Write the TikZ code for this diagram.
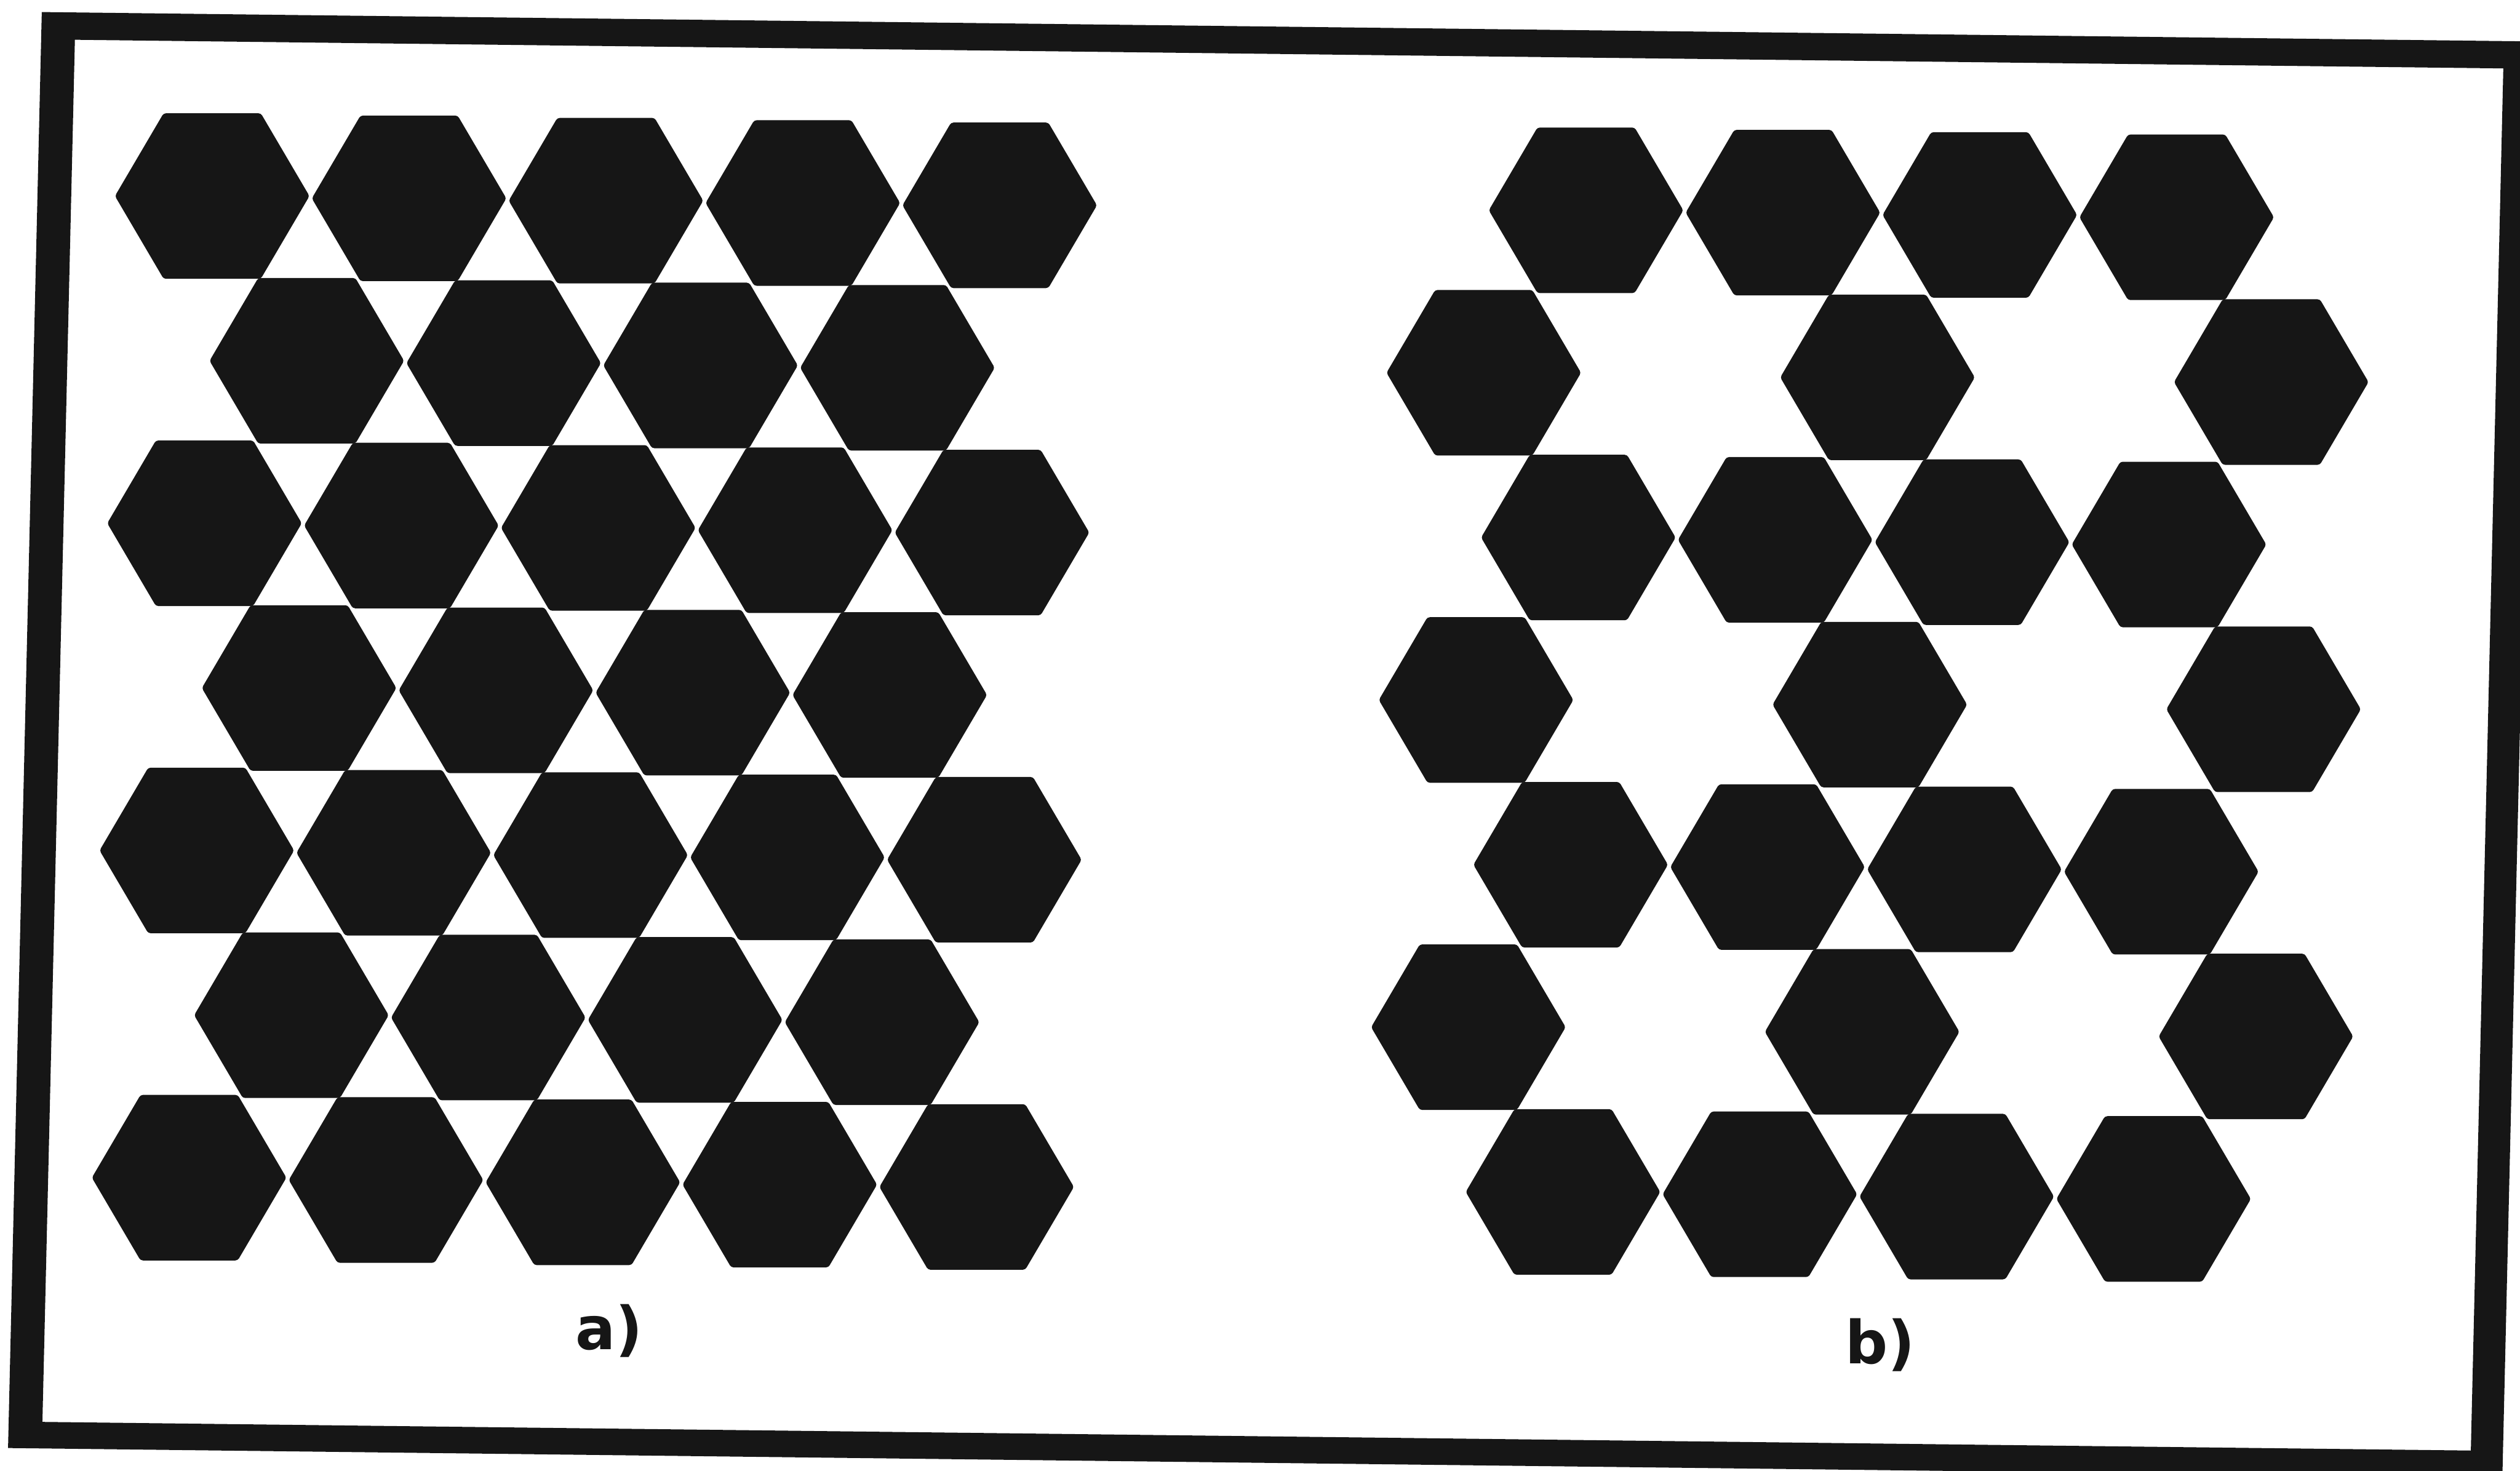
\documentclass[tikz,border=0pt]{standalone}
\usepackage{fontspec}
\setmainfont{DejaVu Sans}
\definecolor{ink}{RGB}{22,22,22}
\tikzset{
  hexfill/.style={fill=ink, rounded corners=1.5pt},
  lbl/.style={font=\fontsize{37}{40}\selectfont\bfseries, text=ink, inner sep=0pt},
  hexa/.pic={\fill[hexfill] (60.5,0) -- (30.25,51.5) -- (-30.25,51.5) -- (-60.5,0) -- (-30.25,-51.5) -- (30.25,-51.5) -- cycle;}
}
\begin{document}
\begin{tikzpicture}[x=1pt,y=1pt]
\useasboundingbox (0,0) rectangle (1568,-915);
\clip (0,0) rectangle (1568,-915);
\fill[white] (0,0) rectangle (1568,-915);
\begin{scope}[cm={1,-0.0118,0.0235,1,(26pt,-7.5pt)}]
  % frame
  \fill[ink, even odd rule] (0,0) rectangle (1552,-893.5) (21,-17) rectangle (1532,-877);
  % panel a
  \foreach \r in {0,2,4,6} {
    \foreach \k in {0,...,4} {
      \pic at ({108.7+122.5*\k},{-(113.2+101.8*\r)}) {hexa};
    }
  }
  \foreach \r in {1,3,5} {
    \foreach \k in {0,...,3} {
      \pic at ({169.95+122.5*\k},{-(113.2+101.8*\r)}) {hexa};
    }
  }
  % panel b
  \foreach \r in {0,2,4,6} {
    \foreach \k in {0,...,3} {
      \pic at ({963.5+122.5*\k},{-(112+101.8*\r)}) {hexa};
    }
  }
  \foreach \r in {1,3,5} {
    \foreach \u in {902.25,1147.25,1392.25} {
      \pic at (\u,{-(112+101.8*\r)}) {hexa};
    }
  }
\end{scope}
\node[lbl] (la) at (379,-828) {a)};
\node[lbl] (lb) at (1170,-837) {b)};
\end{tikzpicture}
\end{document}
